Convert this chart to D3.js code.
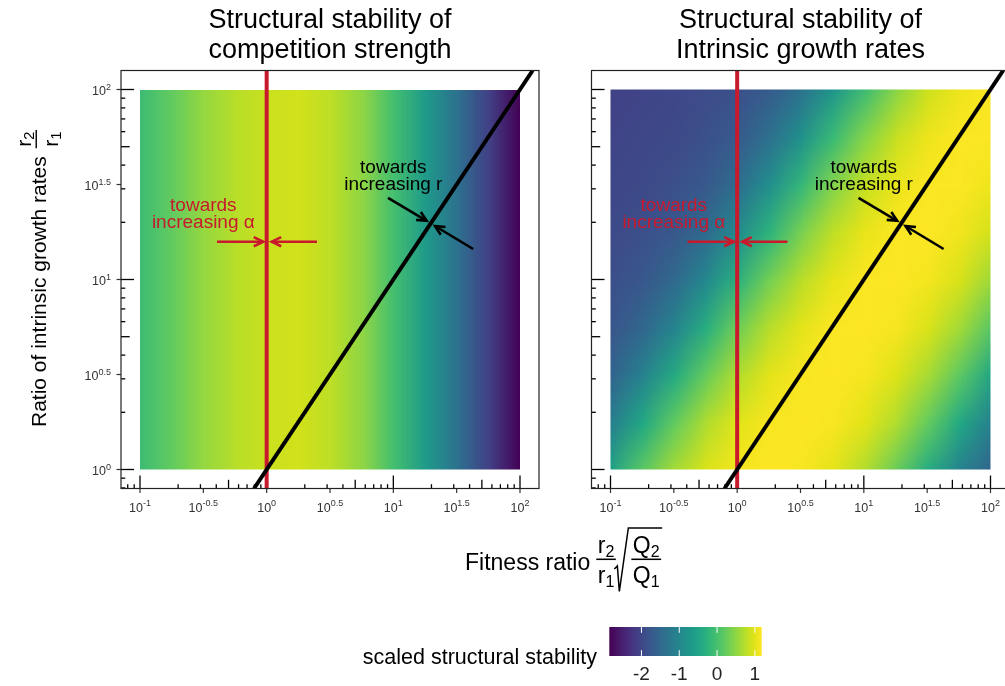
<!DOCTYPE html>
<html>
<head>
<meta charset="utf-8">
<script src="https://cdn.jsdelivr.net/npm/d3@7/dist/d3.min.js"></script>
<style>
html,body{margin:0;padding:0;background:#fff;}
#wrap{position:relative;width:1005px;height:686px;overflow:hidden;background:#fff;}
#wrap canvas,#wrap svg{position:absolute;left:0;top:0;}
</style>
</head>
<body>
<div id="wrap"><canvas id="heat" width="1005" height="686"></canvas><svg id="chart" width="1005" height="686"></svg></div>
<script>
// ---------------- DATA ----------------
// grid of the heat maps, in log10 units
const gridLog10X = [-1, -0.75, -0.5, -0.25, 0, 0.25, 0.5, 0.75, 1, 1.25, 1.5, 1.75, 2];
const gridLog10Y = [0, 0.25, 0.5, 0.75, 1, 1.25, 1.5, 1.75, 2];
// left panel: scaled structural stability of competition strength (depends on fitness ratio only)
const competitionStability = [-0.07, 0.21, 0.54, 0.74, 0.86, 0.90, 0.78, 0.49, -0.03, -0.67, -1.36, -2.08, -2.85];
// right panel: scaled structural stability of intrinsic growth rates, rows = gridLog10Y (bottom to top)
const growthRateStability = [
  [-0.49, 0.16, 0.66, 0.97, 1.13, 1.18, 1.14, 1.01, 0.72, 0.25, -0.38, -1.06, -1.56],
  [-1.12, -0.43, 0.21, 0.70, 1.00, 1.14, 1.18, 1.14, 1.00, 0.70, 0.21, -0.43, -1.12],
  [-1.56, -1.06, -0.38, 0.25, 0.72, 1.01, 1.14, 1.18, 1.13, 0.97, 0.66, 0.16, -0.49],
  [-1.77, -1.52, -1.01, -0.33, 0.29, 0.75, 1.02, 1.15, 1.17, 1.12, 0.95, 0.62, 0.11],
  [-1.88, -1.75, -1.48, -0.95, -0.28, 0.33, 0.77, 1.03, 1.15, 1.17, 1.11, 0.93, 0.58],
  [-1.94, -1.87, -1.74, -1.45, -0.90, -0.23, 0.37, 0.79, 1.04, 1.15, 1.17, 1.10, 0.90],
  [-1.99, -1.94, -1.86, -1.72, -1.41, -0.84, -0.17, 0.41, 0.82, 1.06, 1.16, 1.16, 1.08],
  [-2.02, -1.98, -1.94, -1.85, -1.71, -1.37, -0.79, -0.12, 0.45, 0.84, 1.07, 1.16, 1.16],
  [-2.05, -2.02, -1.98, -1.93, -1.85, -1.69, -1.33, -0.73, -0.07, 0.48, 0.87, 1.08, 1.16]
];
const stabilityRange = [-2.85, 1.18];
const xTickExponents = ["-1", "-0.5", "0", "0.5", "1", "1.5", "2"];
const yTickExponents = ["0", "0.5", "1", "1.5", "2"];
const legendTicks = [-2, -1, 0, 1];
const panelTitles = [["Structural stability of", "competition strength"],
                     ["Structural stability of", "Intrinsic growth rates"]];
// reference lines (log10 units)
const alphaLineLog10X = 0;            // vertical line at fitness ratio 1
const rLineLog10 = [-0.1, 2.1];       // diagonal y = x
// annotations (log10 units)
const alphaArrows = [{from: [-0.392, 1.199], to: [-0.027, 1.199]}, {from: [0.397, 1.199], to: [0.040, 1.199]}];
const rArrows = [{from: [0.958, 1.429], to: [1.263, 1.309]}, {from: [1.630, 1.1605], to: [1.329, 1.2816]}];
const alphaLabel = {at: [-0.5, 1.318], lines: ["towards", "increasing α"]};
const rLabel = {at: [1.0, 1.517], lines: ["towards", "increasing r"]};

// ---------------- SETUP ----------------
const FONT = "'Liberation Sans', Arial, Helvetica, sans-serif";
const RED = "#c8192d";
const svg = d3.select("#chart").style("font-family", FONT);
const ctx = document.getElementById("heat").getContext("2d");
const color = d3.scaleSequential(d3.interpolateViridis).domain(stabilityRange);
const p10 = e => Math.pow(10, e);
const xDomain = [p10(-1.15), p10(2.15)];
const yDomain = [p10(-0.1), p10(2.1)];
const y = d3.scaleLog().domain(yDomain).range([488.5, 70.5]);
const panels = [
  {x: d3.scaleLog().domain(xDomain).range([121, 539]), rows: [competitionStability], yLabels: true},
  {x: d3.scaleLog().domain(xDomain).range([591.5, 1009.5]), rows: growthRateStability.slice().reverse(), yLabels: false}
];

function drawHeat(xs, rows) {
  const nR = rows.length, nC = rows[0].length;
  const off = document.createElement("canvas");
  off.width = nC; off.height = nR;
  const octx = off.getContext("2d");
  const img = octx.createImageData(nC, nR);
  rows.forEach((row, r) => row.forEach((v, c) => {
    const col = d3.rgb(color(v)); const i = (r * nC + c) * 4;
    img.data[i] = col.r; img.data[i + 1] = col.g; img.data[i + 2] = col.b; img.data[i + 3] = 255;
  }));
  octx.putImageData(img, 0, 0);
  const hx = (gridLog10X[1] - gridLog10X[0]) / 2;
  const hy = (gridLog10Y[1] - gridLog10Y[0]) / 2;
  const gx0 = gridLog10X[0], gx1 = gridLog10X[gridLog10X.length - 1];
  const gy0 = gridLog10Y[0], gy1 = gridLog10Y[gridLog10Y.length - 1];
  const cx0 = xs(p10(gx0)), cx1 = xs(p10(gx1)), cyT = y(p10(gy1)), cyB = y(p10(gy0));
  let dx0 = xs(p10(gx0 - hx)), dx1 = xs(p10(gx1 + hx));
  let dyT, dyB;
  if (nR === 1) { dyT = cyT; dyB = cyB; } else { dyT = y(p10(gy1 + hy)); dyB = y(p10(gy0 - hy)); }
  ctx.save();
  ctx.beginPath(); ctx.rect(cx0, cyT, cx1 - cx0, cyB - cyT); ctx.clip();
  ctx.imageSmoothingEnabled = true; ctx.imageSmoothingQuality = "low";
  ctx.drawImage(off, dx0, dyT, dx1 - dx0, dyB - dyT);
  ctx.restore();
}

function powLabel(g, x, yy, exp, anchor) {
  const t = g.append("text").attr("x", x).attr("y", yy).attr("text-anchor", anchor)
    .style("font-size", "12.5px").attr("fill", "#333");
  t.append("tspan").text("10");
  t.append("tspan").attr("dy", -5.5).style("font-size", "9px").text(exp);
}

function arrow(g, x1, y1, x2, y2, col) {
  g.append("line").attr("x1", x1).attr("y1", y1).attr("x2", x2).attr("y2", y2)
    .attr("stroke", col).attr("stroke-width", 2.6);
  const ang = Math.atan2(y2 - y1, x2 - x1), L = 10.5, a = Math.PI / 7;
  g.append("path").attr("d",
    `M${x2 - L * Math.cos(ang - a)},${y2 - L * Math.sin(ang - a)}L${x2},${y2}L${x2 - L * Math.cos(ang + a)},${y2 - L * Math.sin(ang + a)}`)
    .attr("fill", "none").attr("stroke", col).attr("stroke-width", 2.6).attr("stroke-linejoin", "miter");
}

function label(g, xs, lab, col) {
  const cx = xs(p10(lab.at[0])), cy = y(p10(lab.at[1]));
  lab.lines.forEach((s, i) => {
    g.append("text").attr("x", cx).attr("y", cy - 8 + i * 16.5).attr("text-anchor", "middle")
      .style("font-size", "19px").attr("fill", col).text(s);
  });
}

panels.forEach((p, pi) => {
  drawHeat(p.x, p.rows);
  const xs = p.x;
  const [px0, px1] = xs.range(), [py1, py0] = y.range();
  const g = svg.append("g");
  const clipId = "clip" + pi;
  svg.append("clipPath").attr("id", clipId).append("rect")
    .attr("x", px0).attr("y", py0).attr("width", px1 - px0).attr("height", py1 - py0);

  // log ticks inside panel (bottom and left)
  const minor = [];
  for (let k = -3; k <= 3; k++) for (let m = 1; m <= 9; m++) minor.push({v: m * p10(k), m});
  const len = m => m === 1 ? 13 : (m === 5 ? 8.7 : 4.3);
  minor.filter(d => d.v >= xDomain[0] && d.v <= xDomain[1]).forEach(d => {
    g.append("line").attr("x1", xs(d.v)).attr("x2", xs(d.v)).attr("y1", py1).attr("y2", py1 - len(d.m))
      .attr("stroke", "#000").attr("stroke-width", 1.3);
  });
  minor.filter(d => d.v >= yDomain[0] && d.v <= yDomain[1]).forEach(d => {
    g.append("line").attr("y1", y(d.v)).attr("y2", y(d.v)).attr("x1", px0).attr("x2", px0 + len(d.m))
      .attr("stroke", "#000").attr("stroke-width", 1.3);
  });
  // axis ticks + labels
  xTickExponents.forEach(e => {
    const xv = xs(p10(+e));
    g.append("line").attr("x1", xv).attr("x2", xv).attr("y1", py1).attr("y2", py1 + 4.5)
      .attr("stroke", "#333").attr("stroke-width", 1.2);
    powLabel(g, xv, 511.5, e, "middle");
  });
  if (p.yLabels) {
    yTickExponents.forEach(e => {
      const yv = y(p10(+e));
      g.append("line").attr("y1", yv).attr("y2", yv).attr("x1", px0).attr("x2", px0 - 4.5)
        .attr("stroke", "#333").attr("stroke-width", 1.2);
      powLabel(g, 111, yv + 5.5, e, "end");
    });
  }
  // reference lines
  const lines = g.append("g").attr("clip-path", `url(#${clipId})`);
  lines.append("line").attr("x1", xs(p10(alphaLineLog10X))).attr("x2", xs(p10(alphaLineLog10X)))
    .attr("y1", py0).attr("y2", py1).attr("stroke", RED).attr("stroke-width", 4);
  lines.append("line").attr("x1", xs(p10(rLineLog10[0]))).attr("y1", y(p10(rLineLog10[0])))
    .attr("x2", xs(p10(rLineLog10[1]))).attr("y2", y(p10(rLineLog10[1])))
    .attr("stroke", "#000").attr("stroke-width", 4);
  // annotations
  alphaArrows.forEach(a => arrow(g, xs(p10(a.from[0])), y(p10(a.from[1])), xs(p10(a.to[0])), y(p10(a.to[1])), RED));
  rArrows.forEach(a => arrow(g, xs(p10(a.from[0])), y(p10(a.from[1])), xs(p10(a.to[0])), y(p10(a.to[1])), "#000"));
  label(g, xs, alphaLabel, RED);
  label(g, xs, rLabel, "#000");
  // border
  g.append("rect").attr("x", px0).attr("y", py0).attr("width", px1 - px0).attr("height", py1 - py0)
    .attr("fill", "none").attr("stroke", "#222").attr("stroke-width", 1.2);
  // title
  panelTitles[pi].forEach((s, i) => {
    g.append("text").attr("x", (px0 + px1) / 2).attr("y", 28 + i * 29.5).attr("text-anchor", "middle")
      .style("font-size", "27px").attr("fill", "#000").text(s);
  });
});

// ---------------- axis titles with fractions ----------------
function fraction(g, left, B, num, den, size, subSize, offs) {
  const mk = (parts, yy) => {
    const t = g.append("text").attr("y", yy).attr("text-anchor", "middle").style("font-size", size + "px");
    t.append("tspan").text(parts[0]);
    t.append("tspan").attr("dy", offs.sub).style("font-size", subSize + "px").text(parts[1]);
    return t;
  };
  const tn = mk(num, B + offs.num), td = mk(den, B + offs.den);
  const w = Math.max(tn.node().getComputedTextLength(), td.node().getComputedTextLength());
  const cx = left + w / 2 + 1.5;
  tn.attr("x", cx); td.attr("x", cx);
  g.append("line").attr("x1", left).attr("x2", left + w + 3).attr("y1", B + offs.bar).attr("y2", B + offs.bar)
    .attr("stroke", "#000").attr("stroke-width", size / 15);
  return left + w + 3;
}

// x axis title
{
  const g = svg.append("g");
  const B = 570, size = 23;
  const t = g.append("text").attr("x", 465).attr("y", B).style("font-size", size + "px").text("Fitness ratio");
  const offs = {num: -16.7, bar: -10.7, den: 13.3, sub: 3.5};
  let end = fraction(g, 465 + t.node().getComputedTextLength() + 6, B, ["r", "2"], ["r", "1"], size, 16, offs);
  const rx = end - 1.5;
  const qStart = rx + 17;
  const qEnd = fraction(g, qStart, B, ["Q", "2"], ["Q", "1"], size, 16, offs);
  g.append("path").attr("d", `M${rx},${B - 1}L${rx + 3},${B - 4}L${rx + 5},${B + 21.5}L${rx + 14},${B - 42}H${qEnd + 1}`)
    .attr("fill", "none").attr("stroke", "#000").attr("stroke-width", 1.5).attr("stroke-linejoin", "miter");
}
// y axis title
{
  const g = svg.append("g").attr("transform", "translate(46,427) rotate(-90)");
  const size = 21;
  const t = g.append("text").attr("x", 0).attr("y", 0).style("font-size", size + "px").text("Ratio of intrinsic growth rates");
  const k = size / 23;
  fraction(g, t.node().getComputedTextLength() + 8, 0, ["r", "2"], ["r", "1"], size, 16 * k,
    {num: -16.7 * k, bar: -10.7 * k, den: 13.3 * k, sub: 3.5 * k});
}

// ---------------- legend ----------------
{
  const g = svg.append("g");
  const lx = d3.scaleLinear().domain(stabilityRange).range([609.3, 761.7]);
  const top = 627, bot = 656;
  const grad = svg.append("defs").append("linearGradient").attr("id", "lg")
    .attr("x1", "0%").attr("x2", "100%").attr("y1", "0%").attr("y2", "0%");
  d3.range(0, 1.0001, 0.05).forEach(t => grad.append("stop").attr("offset", (t * 100) + "%")
    .attr("stop-color", color(stabilityRange[0] + t * (stabilityRange[1] - stabilityRange[0]))));
  g.append("rect").attr("x", lx.range()[0]).attr("y", top).attr("width", lx.range()[1] - lx.range()[0])
    .attr("height", bot - top).attr("fill", "url(#lg)");
  legendTicks.forEach(v => {
    g.append("line").attr("x1", lx(v)).attr("x2", lx(v)).attr("y1", top).attr("y2", top + 5.8)
      .attr("stroke", "#fff").attr("stroke-width", 1);
    g.append("line").attr("x1", lx(v)).attr("x2", lx(v)).attr("y1", bot - 5.8).attr("y2", bot)
      .attr("stroke", "#fff").attr("stroke-width", 1);
    g.append("text").attr("x", lx(v)).attr("y", 680).attr("text-anchor", "middle")
      .style("font-size", "19px").attr("fill", "#222").text(String(v));
  });
  g.append("text").attr("x", 597).attr("y", 663.5).attr("text-anchor", "end")
    .style("font-size", "21.5px").attr("fill", "#000").text("scaled structural stability");
}
</script>
</body>
</html>
